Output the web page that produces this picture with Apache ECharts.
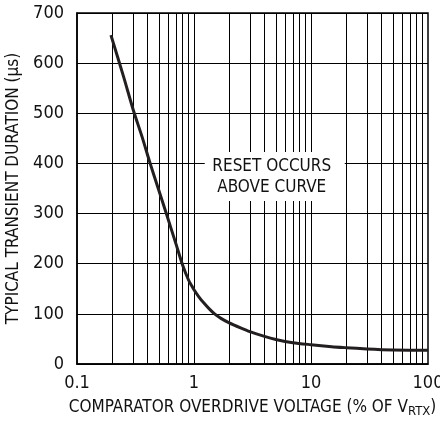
<!DOCTYPE html>
<html>
<head>
<meta charset="utf-8">
<script src="https://cdn.jsdelivr.net/npm/echarts@6/dist/echarts.min.js"></script>
<style>html,body{margin:0;padding:0;background:#fff;}#c{width:440px;height:423px;}</style>
</head>
<body>
<div id="c"></div>
<script>
var overdrive = [0.195, 0.25, 0.305, 0.36, 0.418, 0.49, 0.58, 0.7, 0.8, 0.9, 0.95, 1, 1.1, 1.2, 1.35, 1.5, 1.7, 2, 2.5, 3, 4, 5, 7, 10, 15, 20, 30, 50, 100];
var duration  = [656, 573, 504, 453, 403, 353, 300, 240, 197, 167, 157, 148, 134, 123, 110, 100, 91, 82, 72, 64.5, 55, 49, 42.5, 38.5, 34.5, 32.5, 30, 28, 27.3];
var xTicks = [0.1, 1, 10, 100];
var yTicks = [0, 100, 200, 300, 400, 500, 600, 700];
var xGrid = [0.2,0.3,0.4,0.5,0.6,0.7,0.8,0.9,1,2,3,4,5,6,7,8,9,10,20,30,40,50,60,70,80,90];
var noteText = ['RESET OCCURS', 'ABOVE CURVE'];
var notePos = [4.9, 374];

var FONT = '"Liberation Sans Narrow","DejaVu Sans Condensed","Liberation Sans",sans-serif';
var chart = echarts.init(document.getElementById('c'), null, {renderer: 'canvas'});
chart.setOption({
  animation: false,
  backgroundColor: '#fff',
  grid: {left: 77, right: 12, top: 13, bottom: 59, show: true, borderColor: '#000', borderWidth: 1.5,
    backgroundColor: 'transparent', outerBoundsMode: 'none', containLabel: false},
  xAxis: {
    type: 'log', logBase: 10, min: 0.1, max: 100,
    axisLine: {show: true, lineStyle: {color: '#000', width: 1.5}},
    axisTick: {show: false},
    splitLine: {show: false},
    axisLabel: {color: '#111', fontFamily: FONT, fontSize: 18, margin: 10, hideOverlap: false,
      formatter: function (v) { return xTicks.indexOf(+v) >= 0 ? String(v) : ''; }},
    name: '{a|COMPARATOR OVERDRIVE VOLTAGE (% OF V}{b|RTX}{a|)}',
    nameLocation: 'middle', nameGap: 33,
    nameTextStyle: {rich: {
      a: {fontFamily: FONT, fontSize: 17, color: '#111', lineHeight: 20, verticalAlign: 'middle'},
      b: {fontFamily: FONT, fontSize: 13, color: '#111', lineHeight: 20, verticalAlign: 'middle', padding: [8, 0, 0, 0]}
    }}
  },
  yAxis: {
    type: 'value', min: 0, max: 700, interval: 100,
    axisLine: {show: true, lineStyle: {color: '#000', width: 1.5}},
    axisTick: {show: false},
    splitLine: {show: true, lineStyle: {color: '#000', width: 1}},
    axisLabel: {color: '#111', fontFamily: FONT, fontSize: 18, margin: 13,
      formatter: function (v) { return yTicks.indexOf(v) >= 0 ? String(v) : ''; }},
    name: 'TYPICAL TRANSIENT DURATION (µs)',
    nameLocation: 'middle', nameGap: 48,
    nameTextStyle: {fontFamily: FONT, fontSize: 17, color: '#111'}
  },
  series: [
    {
      type: 'line', data: [], z: 1, silent: true,
      markLine: {
        z: 1, silent: true, symbol: ['none', 'none'], animation: false,
        label: {show: false},
        lineStyle: {color: '#000', width: 1, type: 'solid'},
        emphasis: {disabled: true},
        data: xGrid.map(function (v) { return {xAxis: v}; })
      },
      markPoint: {
        z: 10, silent: true, animation: false,
        symbol: 'rect', symbolSize: [140, 49],
        itemStyle: {color: '#fff'},
        label: {show: true, color: '#111', fontFamily: FONT, fontSize: 17, lineHeight: 21,
          formatter: noteText.join('\n'), offset: [-3, 1]},
        data: [{coord: notePos}]
      }
    },
    {
      type: 'line', z: 5, silent: true,
      data: overdrive.map(function (x, i) { return [x, duration[i]]; }),
      smooth: 0.25,
      showSymbol: false, symbol: 'none',
      lineStyle: {color: '#231f20', width: 3, join: 'round'}
    }
  ]
});
</script>
</body>
</html>
